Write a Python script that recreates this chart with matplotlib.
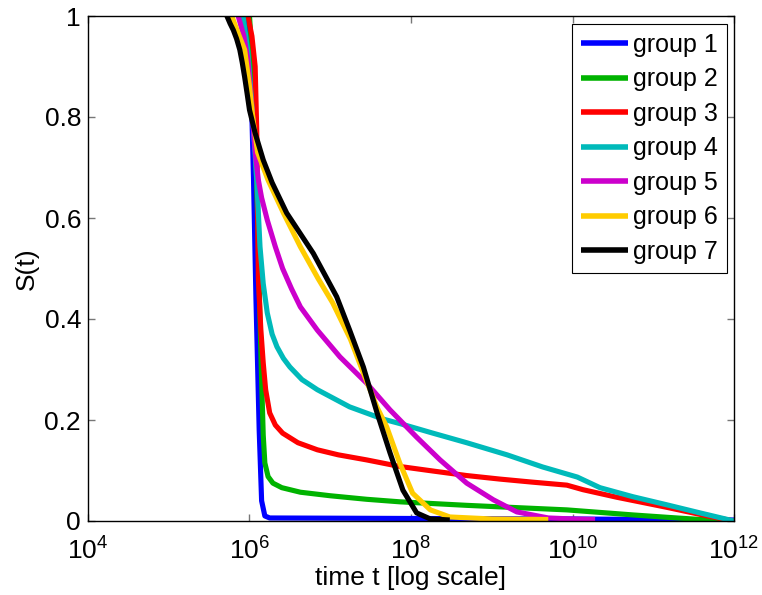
import numpy as np
import matplotlib
matplotlib.use("Agg")
import matplotlib.pyplot as plt

plt.rcParams['font.family'] = ['Liberation Sans', 'DejaVu Sans']

# log10(t) e S(t)
g1_x = [5.95, 6.00, 6.03, 6.05, 6.08, 6.12, 6.15, 6.19, 6.25, 8.0, 10.0, 12.0]
g1_s = [1.0, 0.90, 0.80, 0.675, 0.44, 0.18, 0.04, 0.01, 0.006, 0.005, 0.004, 0.002]

g2_x = [6.00, 6.04, 6.07, 6.10, 6.13, 6.15, 6.17, 6.19, 6.23, 6.29, 6.40, 6.63, 7.00,
        7.45, 7.86, 8.69, 9.10, 9.93, 10.75, 11.20, 11.58, 12.0]
g2_s = [1.0, 0.90, 0.78, 0.60, 0.40, 0.28, 0.17, 0.115, 0.088, 0.075, 0.066, 0.057, 0.050,
        0.043, 0.038, 0.031, 0.028, 0.022, 0.012, 0.007, 0.003, 0.0]

g3_x = [5.98, 6.03, 6.07, 6.09, 6.10, 6.11, 6.14, 6.17, 6.20, 6.25, 6.32, 6.41, 6.60,
        6.84, 7.10, 7.45, 7.86, 8.27, 8.69, 9.10, 9.50, 9.93, 10.13, 10.55, 11.17, 11.70, 12.0]
g3_s = [1.0, 0.96, 0.90, 0.77, 0.62, 0.477, 0.38, 0.313, 0.26, 0.214, 0.19, 0.174, 0.155,
        0.141, 0.131, 0.121, 0.108, 0.099, 0.090, 0.083, 0.077, 0.071, 0.062, 0.047, 0.027, 0.009, 0.0]

g4_x = [5.92, 5.98, 6.03, 6.06, 6.09, 6.13, 6.17, 6.22, 6.28, 6.34, 6.42, 6.50, 6.65,
        6.84, 7.24, 7.65, 7.86, 8.27, 8.69, 9.19, 9.63, 10.06, 10.34, 10.75, 11.17, 11.58, 12.0]
g4_s = [1.0, 0.93, 0.82, 0.75, 0.675, 0.543, 0.47, 0.412, 0.37, 0.345, 0.322, 0.305, 0.28,
        0.26, 0.226, 0.202, 0.193, 0.174, 0.155, 0.131, 0.107, 0.087, 0.066, 0.048, 0.032, 0.016, 0.0]

g5_x = [5.86, 5.93, 5.98, 6.03, 6.08, 6.11, 6.15, 6.22, 6.32, 6.41, 6.52, 6.63, 6.84, 7.12,
        7.45, 7.74, 8.07, 8.36, 8.69, 9.02, 9.31, 9.70, 10.0, 10.28]
g5_s = [1.0, 0.96, 0.913, 0.814, 0.715, 0.675, 0.64, 0.596, 0.543, 0.50, 0.46, 0.424, 0.378,
        0.325, 0.273, 0.22, 0.166, 0.121, 0.075, 0.042, 0.018, 0.006, 0.004, 0.003]

g6_x = [5.78, 5.85, 5.94, 6.00, 6.04, 6.10, 6.23, 6.42, 6.63, 6.85, 7.03, 7.25, 7.43,
        7.58, 7.70, 7.86, 8.02, 8.24, 8.48, 9.00, 9.70]
g6_s = [1.0, 0.97, 0.933, 0.86, 0.80, 0.73, 0.675, 0.61, 0.543, 0.48, 0.432, 0.36, 0.285,
        0.225, 0.186, 0.115, 0.055, 0.022, 0.008, 0.004, 0.003]

g7_x = [5.72, 5.76, 5.80, 5.84, 5.88, 5.91, 5.94, 5.97, 6.00, 6.07, 6.17, 6.28, 6.46, 6.79,
        7.08, 7.24, 7.41, 7.58, 7.74, 7.90, 8.07, 8.24, 8.48]
g7_s = [1.0, 0.985, 0.972, 0.955, 0.933, 0.908, 0.879, 0.847, 0.814, 0.768, 0.715, 0.67, 0.61,
        0.53, 0.444, 0.378, 0.305, 0.214, 0.135, 0.061, 0.016, 0.004, 0.002]

grupos = [
  [g1_x, g1_s, "group 1", (0, 0, 1)],
  [g2_x, g2_s, "group 2", (0, 0.7, 0)],
  [g3_x, g3_s, "group 3", (1, 0, 0)],
  [g4_x, g4_s, "group 4", (0, 0.73, 0.73)],
  [g5_x, g5_s, "group 5", (0.8, 0, 0.8)],
  [g6_x, g6_s, "group 6", (1, 0.8, 0)],
  [g7_x, g7_s, "group 7", (0, 0, 0)],
]

fig = plt.figure(figsize=(7.62, 5.95), dpi=100)
ax = fig.add_axes([88/762, 74/595, 646/762, 505/595])

for xs, ss, legenda, cor in grupos:
  ax.plot(10.0**np.array(xs), ss, color=cor, lw=3.7, label=legenda,
          solid_joinstyle='round', solid_capstyle='butt')

ax.set_xscale("log")
ax.set_xlim(1e4, 1e12)
ax.set_ylim(0, 1)
ax.set_xticks([1e4, 1e6, 1e8, 1e10, 1e12])
ax.xaxis.set_minor_locator(matplotlib.ticker.NullLocator())
ax.set_yticks([0, 0.2, 0.4, 0.6, 0.8, 1])
ax.set_yticklabels(["0", "0.2", "0.4", "0.6", "0.8", "1"])
ax.tick_params(direction="in", length=5, width=1, color="#777777",
               top=True, right=True, labelsize=19, pad=5)
ax.tick_params(axis="x", pad=12)
for lado in ax.spines.values():
  lado.set_linewidth(1.0)

ax.set_xlabel("time t [log scale]", fontsize=19, labelpad=1)
ax.set_ylabel("S(t)", fontsize=19, labelpad=4)

leg = ax.legend(loc="upper right", bbox_to_anchor=(0.989, 0.984), borderaxespad=0,
                fontsize=18, fancybox=False, edgecolor="black", framealpha=1,
                handlelength=1.9, handletextpad=0.2, labelspacing=0.42,
                borderpad=0.35)
leg.get_frame().set_linewidth(0.8)
for linha in leg.get_lines():
  linha.set_linewidth(4)

fig.savefig("out.png", dpi=100)
